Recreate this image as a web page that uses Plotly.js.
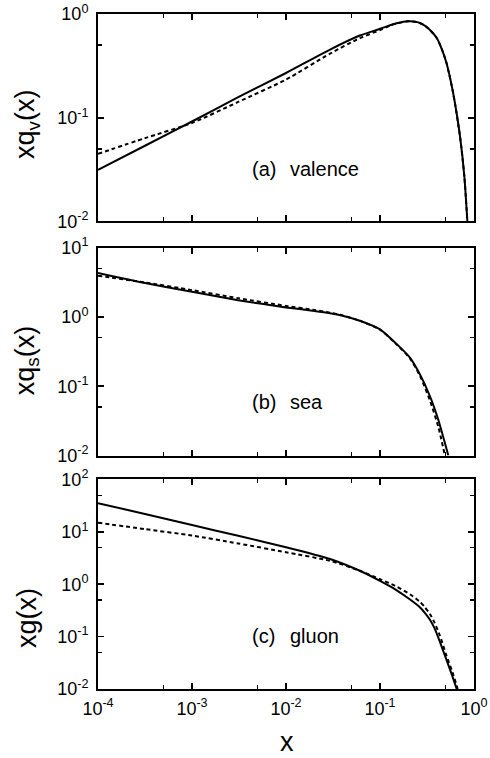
<!DOCTYPE html>
<html>
<head>
<meta charset="utf-8">
<script src="https://cdn.plot.ly/plotly-3.0.1.min.js"></script>
<style>html,body{margin:0;padding:0;background:#fff;}</style>
</head>
<body>
<div id="chart" style="width:490px;height:758px;"></div>
<script>
// ---- data ----
const xValence      = [1e-4, 3.16e-4, 1e-3, 3.1e-3, 1e-2, 0.0294, 0.061, 0.1, 0.128, 0.15, 0.2, 0.25, 0.288, 0.33, 0.40, 0.45, 0.51, 0.60, 0.71, 0.79, 0.85];
const valenceSolid  = [0.0315, 0.0537, 0.092, 0.158, 0.27, 0.454, 0.62, 0.72, 0.78, 0.815, 0.853, 0.835, 0.79, 0.72, 0.59, 0.47, 0.337, 0.173, 0.066, 0.027, 0.01];
const valenceDashed = [0.0449, 0.0636, 0.089, 0.142, 0.233, 0.415, 0.585, 0.70, 0.775, 0.81, 0.853, 0.835, 0.79, 0.72, 0.59, 0.47, 0.337, 0.173, 0.066, 0.027, 0.01];

const xSeaSolid  = [1e-4, 3.16e-4, 1e-3, 3.1e-3, 1e-2, 0.02, 0.0294, 0.04, 0.061, 0.1, 0.145, 0.209, 0.267, 0.34, 0.417, 0.533];
const seaSolid   = [4.28, 3.07, 2.30, 1.74, 1.37, 1.22, 1.13, 1.04, 0.88, 0.66, 0.425, 0.257, 0.147, 0.0716, 0.0328, 0.01];
const xSeaDashed = [1e-4, 3.16e-4, 1e-3, 3.1e-3, 1e-2, 0.02, 0.0294, 0.04, 0.061, 0.1, 0.145, 0.209, 0.267, 0.34, 0.417, 0.49];
const seaDashed  = [3.93, 3.14, 2.43, 1.86, 1.44, 1.26, 1.15, 1.05, 0.88, 0.655, 0.42, 0.25, 0.14, 0.062, 0.026, 0.01];

const xGluonSolid  = [1e-4, 3.16e-4, 1e-3, 3.1e-3, 1e-2, 0.0294, 0.061, 0.1, 0.145, 0.209, 0.267, 0.30, 0.34, 0.38, 0.433, 0.51, 0.58, 0.655];
const gluonSolid   = [35.3, 22, 13.5, 8.4, 5.1, 3.04, 1.81, 1.16, 0.80, 0.51, 0.36, 0.285, 0.21, 0.145, 0.08, 0.036, 0.019, 0.01];
const xGluonDashed = [1e-4, 3.16e-4, 1e-3, 3.1e-3, 1e-2, 0.0294, 0.061, 0.1, 0.145, 0.209, 0.267, 0.30, 0.34, 0.38, 0.433, 0.51, 0.59, 0.67];
const gluonDashed  = [14.9, 11.3, 8.5, 6.0, 4.09, 2.8, 1.81, 1.25, 0.93, 0.64, 0.46, 0.365, 0.27, 0.185, 0.105, 0.043, 0.021, 0.01];

const xTickVals  = [1e-4, 1e-3, 1e-2, 1e-1, 1];
const xTickText  = ['10<sup>-4</sup>', '10<sup>-3</sup>', '10<sup>-2</sup>', '10<sup>-1</sup>', '10<sup>0</sup>'];
const xMinorVals = [5e-4, 5e-3, 5e-2, 0.5];

const yTopVals  = [0.01, 0.1, 1];
const yTopText  = ['10<sup>-2</sup>', '10<sup>-1</sup>', '10<sup>0</sup>'];
const yTopMinor = [0.05, 0.5];
const yMidVals  = [0.01, 0.1, 1, 10];
const yMidText  = ['10<sup>-2</sup>', '10<sup>-1</sup>', '10<sup>0</sup>', '10<sup>1</sup>'];
const yMidMinor = [0.05, 0.5, 5];
const yBotVals  = [0.01, 0.1, 1, 10, 100];
const yBotText  = ['10<sup>-2</sup>', '10<sup>-1</sup>', '10<sup>0</sup>', '10<sup>1</sup>', '10<sup>2</sup>'];
const yBotMinor = [0.05, 0.5, 5, 50];

const panelLabels = ['(a)', '(b)', '(c)'];
const panelNames  = ['valence', 'sea', 'gluon'];
const yTitles     = ['xq<sub>v</sub>(x)', 'xq<sub>s</sub>(x)', 'xg(x)'];

// ---- styling ----
const FONT = 'Liberation Sans, Arial, Helvetica, sans-serif';
const solidLine  = {color: '#000', width: 2};
const dashedLine = {color: '#000', width: 2, dash: '4px,3px'};

function trace(x, y, line, xa, ya) {
  return {x: x, y: y, type: 'scatter', mode: 'lines', line: Object.assign({shape: 'spline', smoothing: 0.6}, line),
          xaxis: xa, yaxis: ya, hoverinfo: 'skip', showlegend: false};
}

const data = [
  trace(xValence, valenceDashed, dashedLine, 'x', 'y'),
  trace(xValence, valenceSolid, solidLine, 'x', 'y'),
  trace(xSeaDashed, seaDashed, dashedLine, 'x2', 'y2'),
  trace(xSeaSolid, seaSolid, solidLine, 'x2', 'y2'),
  trace(xGluonDashed, gluonDashed, dashedLine, 'x3', 'y3'),
  trace(xGluonSolid, gluonSolid, solidLine, 'x3', 'y3')
];

function xAxis(anchor, showLabels) {
  return {
    type: 'log', range: [-4, 0], domain: [0, 1], anchor: anchor,
    tickmode: 'array', tickvals: xTickVals, ticktext: xTickText,
    showticklabels: showLabels, ticklabelstandoff: 2,
    ticks: 'inside', ticklen: 6, tickwidth: 1.5, tickcolor: '#000',
    minor: {tickmode: 'array', tickvals: xMinorVals, ticks: 'inside', ticklen: 4, tickwidth: 1.5, tickcolor: '#000', showgrid: false},
    showline: true, linecolor: '#000', linewidth: 2, mirror: 'ticks',
    showgrid: false, zeroline: false,
    tickfont: {family: FONT, size: 18, color: '#000'}
  };
}
function yAxis(anchor, domain, range, vals, text, minor) {
  return {
    type: 'log', range: range, domain: domain, anchor: anchor,
    tickmode: 'array', tickvals: vals, ticktext: text,
    ticklabelstandoff: 4,
    ticks: 'inside', ticklen: 6, tickwidth: 1.5, tickcolor: '#000',
    minor: {tickmode: 'array', tickvals: minor, ticks: 'inside', ticklen: 4, tickwidth: 1.5, tickcolor: '#000', showgrid: false},
    showline: true, linecolor: '#000', linewidth: 2, mirror: 'ticks',
    showgrid: false, zeroline: false,
    tickfont: {family: FONT, size: 18, color: '#000'}
  };
}

const labelY = [0.770, 0.425, 0.0785];
const titleY = [0.837, 0.487, 0.105];
const annotations = [];
for (let i = 0; i < 3; i++) {
  annotations.push({xref: 'paper', yref: 'paper', x: 0.404, y: labelY[i], xanchor: 'left', yanchor: 'middle',
    text: panelLabels[i], showarrow: false, font: {family: FONT, size: 20, color: '#000'}});
  annotations.push({xref: 'paper', yref: 'paper', x: 0.505, y: labelY[i], xanchor: 'left', yanchor: 'middle',
    text: panelNames[i], showarrow: false, font: {family: FONT, size: 20, color: '#000'}});
  annotations.push({xref: 'paper', yref: 'paper', x: -0.189, y: titleY[i], xanchor: 'center', yanchor: 'middle',
    textangle: -90, text: yTitles[i], showarrow: false, font: {family: FONT, size: 27, color: '#000'}});
}
annotations.push({xref: 'paper', yref: 'paper', x: 0.502, y: -0.0785, xanchor: 'center', yanchor: 'middle',
  text: 'x', showarrow: false, font: {family: FONT, size: 27, color: '#000'}});

const layout = {
  width: 490, height: 758,
  margin: {l: 98, r: 16, t: 14, b: 69, pad: 0},
  paper_bgcolor: '#fff', plot_bgcolor: '#fff',
  showlegend: false,
  font: {family: FONT, color: '#000'},
  xaxis:  xAxis('y', false),
  yaxis:  yAxis('x', [0.6926, 1], [-2, 0], yTopVals, yTopText, yTopMinor),
  xaxis2: xAxis('y2', false),
  yaxis2: yAxis('x2', [0.3459, 0.654], [-2, 1], yMidVals, yMidText, yMidMinor),
  xaxis3: xAxis('y3', true),
  yaxis3: yAxis('x3', [0, 0.3104], [-2, 2], yBotVals, yBotText, yBotMinor),
  annotations: annotations
};

Plotly.newPlot('chart', data, layout, {displayModeBar: false, staticPlot: true});
</script>
</body>
</html>
